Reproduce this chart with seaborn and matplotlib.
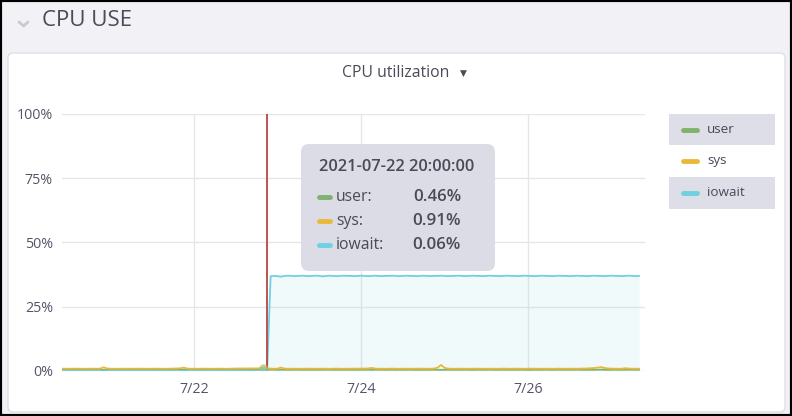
import numpy as np
import pandas as pd
import matplotlib
matplotlib.use("Agg")
import matplotlib.pyplot as plt
import seaborn as sns
from matplotlib.patches import FancyBboxPatch, Rectangle
from matplotlib.lines import Line2D
from matplotlib.transforms import IdentityTransform

# ---------------- data ----------------
start_time = "2021-07-20 10:00"
series_names = ["user", "sys", "iowait"]
series_colors = ["#7EB26D", "#EAB839", "#6ED0E0"]

user_pct = [
    0.42, 0.45, 0.40, 0.44, 0.47, 0.43, 0.41, 0.45, 0.48, 0.44, 0.42, 0.46,
    0.43, 0.41, 0.44, 0.46, 0.42, 0.40, 0.43, 0.45, 0.47, 0.44, 0.41, 0.43,
    0.45, 0.42, 0.44, 0.47, 0.43, 0.41, 0.44, 0.46, 0.42, 0.45, 0.48, 0.44,
    0.42, 0.46, 0.43, 0.41, 0.44, 0.47, 0.45, 0.42, 0.44, 0.46, 0.43, 0.41,
    0.44, 0.48, 0.45, 0.43, 0.46, 0.44, 0.42, 0.47, 0.45, 0.43, 0.46, 0.47,
    0.52, 0.49, 0.47, 0.50, 0.48, 0.46, 0.49, 0.51, 0.47, 0.45, 0.48, 0.50,
    0.47, 0.49, 0.46, 0.48, 0.51, 0.47, 0.45, 0.48, 0.50, 0.46, 0.49, 0.47,
    0.45, 0.48, 0.50, 0.47, 0.49, 0.46, 0.48, 0.51, 0.47, 0.45, 0.48, 0.50,
    0.46, 0.49, 0.47, 0.48, 0.50, 0.47, 0.45, 0.48, 0.49, 0.46, 0.48, 0.51,
    0.47, 0.45, 0.48, 0.50, 0.46, 0.49, 0.47, 0.48, 0.50, 0.47, 0.45, 0.48,
    0.49, 0.46, 0.48, 0.51, 0.47, 0.45, 0.48, 0.50, 0.46, 0.49, 0.47, 0.48,
    0.50, 0.47, 0.45, 0.48, 0.49, 0.46, 0.48, 0.51, 0.47, 0.45, 0.48, 0.50,
    0.46, 0.49, 0.47, 0.48, 0.50, 0.47, 0.45, 0.48, 0.49, 0.46, 0.48, 0.51,
    0.47, 0.45, 0.48, 0.50, 0.46, 0.49, 0.47, 0.48, 0.50, 0.47, 0.46,
]
sys_pct = [
    0.88, 0.90, 0.87, 0.89, 0.92, 0.88, 0.86, 0.90, 0.91, 0.88, 0.87, 0.93,
    1.45, 0.95, 0.88, 0.86, 0.89, 0.91, 0.87, 0.88, 0.90, 0.86, 0.89, 0.91,
    0.88, 0.87, 0.90, 0.92, 0.89, 0.86, 0.88, 0.91, 0.93, 0.97, 1.05, 1.30,
    0.95, 0.88, 0.90, 0.86, 0.89, 0.92, 0.88, 0.87, 0.90, 0.91, 0.88, 0.86,
    0.89, 0.92, 0.95, 0.98, 1.00, 0.97, 0.99, 1.02, 1.05, 1.03, 0.91, 0.98,
    0.92, 0.88, 0.90, 1.35, 0.92, 0.87, 0.89, 0.91, 0.88, 0.86, 0.90, 0.92,
    0.88, 0.87, 0.89, 0.91, 0.88, 0.86, 0.90, 0.92, 0.89, 0.87, 0.88, 0.91,
    0.89, 0.90, 0.88, 0.92, 0.97, 1.22, 0.95, 0.88, 0.90, 0.87, 0.89, 0.92,
    0.88, 0.86, 0.89, 0.91, 0.88, 0.87, 0.90, 0.92, 0.89, 0.87, 0.88, 0.95,
    1.30, 2.35, 1.25, 0.92, 0.88, 0.87, 0.89, 0.91, 0.88, 0.86, 0.90, 0.92,
    0.89, 0.87, 0.88, 0.91, 0.89, 0.86, 0.90, 0.92, 0.88, 0.87, 0.89, 0.91,
    0.88, 0.86, 0.90, 0.92, 0.89, 0.87, 0.88, 0.91, 0.89, 0.86, 0.90, 0.92,
    0.88, 0.87, 0.89, 0.91, 0.88, 0.90, 0.93, 0.98, 1.05, 1.15, 1.30, 1.50,
    1.20, 0.98, 0.92, 0.89, 0.90, 0.88, 1.10, 0.92, 0.89, 0.88, 0.90,
]
iowait_pct = [
    0.07, 0.06, 0.08, 0.05, 0.06, 0.07, 0.06, 0.05, 0.08, 0.06, 0.07, 0.05,
    0.06, 0.08, 0.07, 0.05, 0.06, 0.07, 0.06, 0.08, 0.05, 0.06, 0.07, 0.06,
    0.05, 0.07, 0.06, 0.08, 0.06, 0.05, 0.07, 0.06, 0.08, 0.05, 0.06, 0.07,
    0.06, 0.05, 0.07, 0.06, 0.08, 0.06, 0.05, 0.07, 0.06, 0.05, 0.08, 0.06,
    0.07, 0.05, 0.06, 0.08, 0.06, 0.07, 0.05, 0.06, 0.07, 0.05, 0.06, 0.09,
    36.9, 37.0, 36.9, 36.7, 37.0, 37.1, 37.0, 36.9, 37.0, 37.1, 37.0, 36.9,
    37.0, 37.1, 37.0, 36.8, 37.0, 37.1, 37.0, 36.9, 37.0, 37.1, 37.0, 37.0,
    36.9, 37.0, 37.1, 37.0, 36.9, 37.0, 37.1, 37.0, 36.9, 37.0, 37.0, 37.1,
    37.0, 36.9, 37.0, 37.1, 37.0, 37.0, 36.9, 37.0, 37.1, 37.0, 36.9, 37.0,
    37.0, 37.1, 37.0, 36.9, 37.0, 37.0, 37.1, 37.0, 36.9, 37.0, 37.1, 37.0,
    37.0, 36.9, 37.0, 37.1, 37.0, 37.0, 36.9, 37.0, 37.1, 37.0, 37.0, 36.9,
    37.0, 37.1, 37.0, 37.0, 36.9, 37.0, 37.1, 37.0, 37.0, 36.9, 37.0, 37.1,
    37.0, 37.0, 36.9, 37.0, 37.1, 37.0, 37.0, 36.9, 37.0, 37.1, 37.0, 37.0,
    36.9, 37.0, 37.1, 37.0, 37.0, 36.9, 37.0, 37.1, 37.0, 36.9, 37.0,
]

y_ticks = [0, 25, 50, 75, 100]
y_tick_labels = ["0%", "25%", "50%", "75%", "100%"]
x_ticks = ["2021-07-22", "2021-07-24", "2021-07-26"]
x_tick_labels = ["7/22", "7/24", "7/26"]

hover_time = "2021-07-22 20:00:00"
cursor_time = "2021-07-22 21:00"
hover_values = ["0.46%", "0.91%", "0.06%"]

page_title = "CPU USE"
panel_title = "CPU utilization"

# ---------------- figure ----------------
sns.set_theme(style="white")
plt.rcParams["font.family"] = ["Open Sans", "DejaVu Sans"]

W, H = 792, 416
TXT = "#4A4A58"
fig = plt.figure(figsize=(W / 100, H / 100), dpi=100)
fig.patch.set_facecolor("#F2F2F6")

# panel
panel = FancyBboxPatch((8, H - 412), 777, 359,
                       boxstyle="round,pad=0,rounding_size=5",
                       facecolor="white", edgecolor="#DEDEE6", linewidth=1.0,
                       transform=IdentityTransform(), zorder=0)
fig.add_artist(panel)

# outer black frame
fig.add_artist(Rectangle((0, 0), 1, 1, transform=fig.transFigure,
                         fill=False, edgecolor="black", linewidth=3.0, zorder=10))

# header
fig.text(42 / W, 1 - 20 / H, page_title, fontsize=16, color=TXT,
         ha="left", va="center")
fig.add_artist(Line2D([19, 23.5, 28], [H - 22, H - 26, H - 22],
                      transform=IdentityTransform(), color="#C9C9D4", lw=2.0))

fig.text(396 / W, 1 - 73 / H, panel_title, fontsize=11.3,
         color=TXT, ha="center", va="center")
fig.text(463 / W, 1 - 73 / H, "\u25BC", fontsize=6.5, family="DejaVu Sans",
         color=TXT, ha="center", va="center")

# axes
ax = fig.add_axes([62 / W, 45 / H, (645 - 62) / W, 257 / H])
ax.set_facecolor("white")

times = pd.date_range(start_time, periods=len(user_pct), freq="h")
df = pd.DataFrame({"time": times, "user": user_pct, "sys": sys_pct,
                   "iowait": iowait_pct})
long = df.melt(id_vars="time", var_name="series", value_name="value")

ax.fill_between(df["time"], 0, df["iowait"], color=series_colors[2],
                alpha=0.1, linewidth=0, zorder=1)
sns.lineplot(data=long, x="time", y="value", hue="series",
             hue_order=series_names,
             palette=dict(zip(series_names, series_colors)),
             legend=False, linewidth=1.3, ax=ax, zorder=3)

ax.axvline(pd.Timestamp(cursor_time), color="#B94444", lw=1.3, zorder=4)
ht = pd.Timestamp(hover_time)
for name, col in zip(series_names, series_colors):
    v = df.loc[df["time"] == ht, name].iloc[0]
    ax.scatter([ht], [v], s=45, color=col, alpha=0.5, edgecolor="none",
               zorder=5)

ax.set_ylim(0, 100)
ax.set_xlim(pd.Timestamp("2021-07-20 10:00"), pd.Timestamp("2021-07-27 09:40"))
ax.set_yticks(y_ticks)
ax.set_yticklabels(y_tick_labels)
ax.set_xticks(pd.to_datetime(x_ticks))
ax.set_xticklabels(x_tick_labels)
ax.tick_params(axis="both", length=0, labelsize=10.3, colors="#55556A")
ax.tick_params(axis="y", pad=6.5)
ax.tick_params(axis="x", pad=8)
ax.grid(True, color="#E6E6EA", linewidth=1.0, zorder=0)
ax.set_axisbelow(True)
for s in ax.spines.values():
    s.set_visible(False)
ax.set_xlabel("")
ax.set_ylabel("")

# legend (right side)
legend_rows = [(114, 145), (145, 177), (177, 209)]
for i, (name, col) in enumerate(zip(series_names, series_colors)):
    t0, t1 = legend_rows[i]
    if i != 1:
        fig.add_artist(Rectangle((669, H - t1), 106, t1 - t0,
                                 transform=IdentityTransform(),
                                 facecolor="#DEDEE8", edgecolor="none"))
    yc = H - (t0 + t1) / 2
    fig.add_artist(Line2D([683, 697], [yc, yc], transform=IdentityTransform(),
                          color=col, lw=3.5, solid_capstyle="round"))
    fig.text(707 / W, yc / H, name, fontsize=9.7, color=TXT,
             ha="left", va="center")

# tooltip
tip = FancyBboxPatch((301, H - 271), 194, 127,
                     boxstyle="round,pad=0,rounding_size=8",
                     facecolor="#DCDCE6", edgecolor="none",
                     transform=IdentityTransform(), zorder=6)
fig.add_artist(tip)
fig.text(319 / W, 1 - 167 / H, hover_time, fontsize=11.8, color=TXT,
         fontweight="semibold", ha="left", va="center", zorder=7)
for i, (name, col, val) in enumerate(zip(series_names, series_colors,
                                         hover_values)):
    yc = H - (197 + 24 * i)
    fig.add_artist(Line2D([319, 330], [yc, yc], transform=IdentityTransform(),
                          color=col, lw=3.5, solid_capstyle="round", zorder=7))
    fig.text(336 / W, yc / H, name + ":", fontsize=11.3, color=TXT,
             ha="left", va="center", zorder=7)
    fig.text(461 / W, yc / H, val, fontsize=12.2, color=TXT,
             fontweight="semibold", ha="right", va="center", zorder=7)

fig.savefig("out.png", dpi=100, facecolor=fig.get_facecolor())
